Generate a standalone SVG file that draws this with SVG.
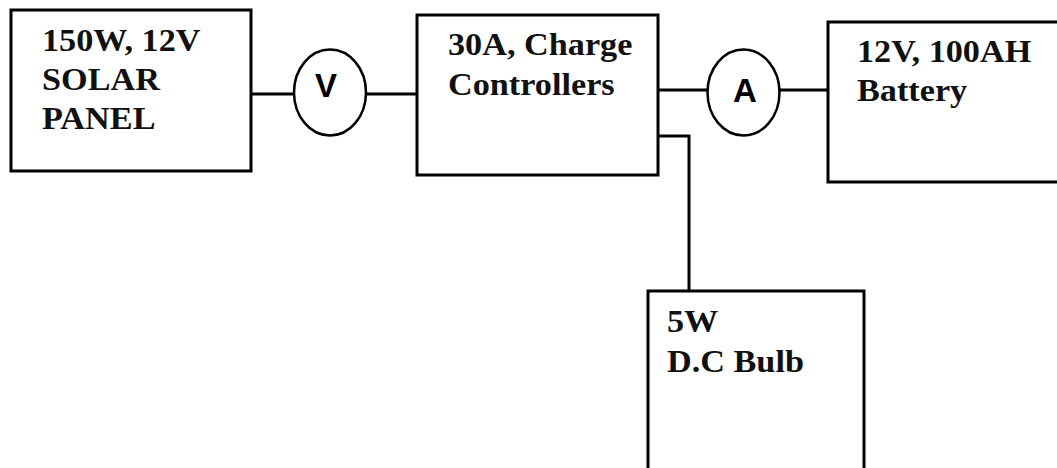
<svg xmlns="http://www.w3.org/2000/svg" width="1057" height="468" viewBox="0 0 1057 468">
<style>
.box{fill:#fff;stroke:#000;stroke-width:3}
.meter{fill:#fff;stroke:#000;stroke-width:2.5}
.wire{fill:none;stroke:#000;stroke-width:3}
.lbl{font-family:"Liberation Serif","Times New Roman",serif;font-weight:bold;font-size:32px;fill:#111}
.ml{font-family:"Liberation Sans",Arial,sans-serif;font-weight:bold;font-size:33px;fill:#000;text-anchor:middle}
</style>
<g id="connectors">
<line class="wire" x1="251" y1="94" x2="294" y2="94"/>
<line class="wire" x1="366" y1="94" x2="417" y2="94"/>
<line class="wire" x1="658" y1="90" x2="708" y2="90"/>
<line class="wire" x1="779" y1="90" x2="828" y2="90"/>
<polyline class="wire" points="658,136 689,136 689,291"/>
</g>
<g id="solar">
<rect class="box" x="11" y="10" width="240" height="161"/>
<text class="lbl" transform="translate(42,51) scale(1.07,1)">150W, 12V</text>
<text class="lbl" transform="translate(42,90) scale(1.07,1)">SOLAR</text>
<text class="lbl" transform="translate(42,129) scale(1.07,1)">PANEL</text>
</g>
<g id="voltmeter">
<ellipse class="meter" cx="330" cy="92.5" rx="36" ry="43"/>
<text class="ml" x="326" y="97">V</text>
</g>
<g id="controller">
<rect class="box" x="417" y="15" width="241" height="160"/>
<text class="lbl" transform="translate(448,55) scale(1.07,1)">30A, Charge</text>
<text class="lbl" transform="translate(448,95) scale(1.07,1)">Controllers</text>
</g>
<g id="ammeter">
<ellipse class="meter" cx="743.5" cy="92.5" rx="36" ry="43"/>
<text class="ml" x="745" y="102">A</text>
</g>
<g id="battery">
<rect class="box" x="828" y="22" width="240" height="160"/>
<text class="lbl" transform="translate(857,62) scale(1.07,1)">12V, 100AH</text>
<text class="lbl" transform="translate(857,101) scale(1.07,1)">Battery</text>
</g>
<g id="bulb">
<rect class="box" x="648" y="291" width="216" height="200"/>
<text class="lbl" transform="translate(667,332) scale(1.07,1)">5W</text>
<text class="lbl" transform="translate(667,372) scale(1.07,1)">D.C Bulb</text>
</g>
</svg>
